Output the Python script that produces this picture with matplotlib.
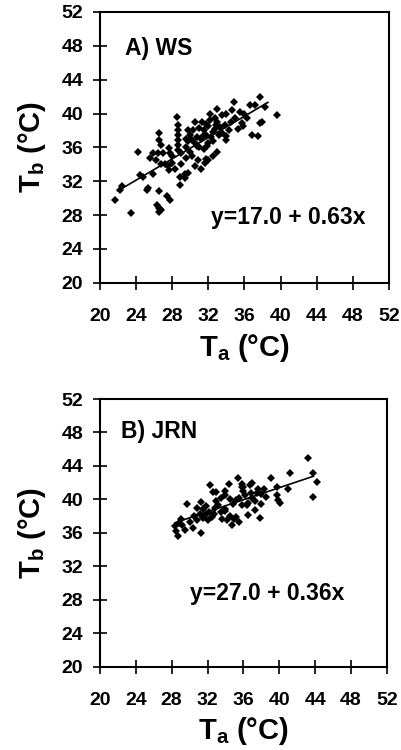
import numpy as np
import matplotlib
matplotlib.use('Agg')
import matplotlib.pyplot as plt

plt.rcParams['font.family'] = ['Liberation Sans', 'DejaVu Sans']
plt.rcParams['font.weight'] = 'bold'
plt.rcParams['mathtext.fontset'] = 'custom'
plt.rcParams['mathtext.rm'] = 'Liberation Sans:bold'
plt.rcParams['mathtext.bf'] = 'Liberation Sans:bold'
plt.rcParams['mathtext.default'] = 'bf'

# ----------------------------
# Data
# ----------------------------
ticks = [20, 24, 28, 32, 36, 40, 44, 48, 52]

# A) WS
ws_ta = [21.7, 22.4, 22.2, 23.5, 24.4, 24.8, 25.2, 25.3, 25.9, 26.3, 26.5, 26.8, 26.6, 27.4, 27.8, 26.5, 26.7,
         24.2, 25.9, 26.4, 27.0, 26.5, 26.6, 26.8, 27.6, 27.8, 28.5, 28.7, 28.7, 28.7, 28.7, 28.7, 28.7,
         27.6, 28.9, 29.4, 28.9, 29.4, 29.8, 30.9, 31.6, 31.7, 32.0, 29.0, 28.0, 27.2, 26.2, 25.5, 27.5,
         28.3, 29.5, 30.2, 29.0, 28.0, 26.8, 30.5,
         29.5, 29.8, 30.0, 30.3, 30.5, 30.8, 31.0, 31.2, 31.5, 31.8, 32.0, 32.2, 32.5, 32.8, 33.0, 33.2,
         31.0, 31.5, 32.0, 32.5, 30.0, 29.5, 31.3, 32.2, 32.7, 31.8, 30.5, 29.8, 33.5, 33.8, 33.5, 34.0, 34.0,
         34.8, 34.6, 35.5, 35.7, 36.6, 37.2, 37.7, 38.3, 37.9, 37.7, 39.6, 36.8, 37.5, 35.0, 36.0, 34.5,
         35.3, 36.3, 33.0, 34.0, 31.2, 32.5, 33.0, 30.7, 31.4, 32.3, 33.3, 30.2, 31.9, 32.9, 34.3, 35.8]
ws_tb = [29.8, 31.4, 31.0, 28.2, 32.7, 32.5, 31.0, 31.2, 32.8, 29.2, 28.8, 28.6, 30.8, 30.2, 29.8, 28.4, 28.7,
         35.5, 35.3, 35.3, 35.3, 37.7, 36.9, 36.3, 35.9, 35.3, 39.6, 38.6, 38.1, 37.5, 36.9, 36.3, 35.7,
         33.3, 32.5, 32.4, 31.6, 32.8, 33.0, 34.5, 34.2, 34.6, 34.5, 34.0, 34.2, 34.0, 34.5, 34.8, 33.8,
         33.5, 34.8, 35.0, 35.3, 35.0, 34.0, 33.8,
         36.0, 36.8, 37.5, 38.0, 36.5, 37.2, 38.3, 37.0, 38.0, 37.5, 38.5, 39.2, 37.8, 38.2, 39.0, 37.5,
         36.0, 35.8, 36.5, 36.8, 35.5, 37.0, 39.0, 40.0, 39.5, 38.8, 39.0, 38.0, 39.8, 38.6, 37.7, 36.9, 37.3,
         41.4, 40.4, 40.2, 38.9, 41.0, 41.0, 42.0, 40.8, 39.0, 38.9, 39.8, 37.5, 37.3, 39.5, 40.0, 39.0,
         38.2, 39.5, 40.5, 40.0, 33.5, 35.0, 35.5, 36.2, 37.4, 37.2, 38.4, 36.9, 36.2, 38.7, 38.1, 38.5]

# B) JRN
jrn_ta = [28.4, 28.5, 28.7, 28.8, 29.5, 30.4, 31.3, 29.7, 31.3, 30.5, 30.8, 31.2, 31.5, 31.8, 32.0, 32.2,
          32.5, 32.3, 32.6, 33.0, 33.2, 33.5, 33.8, 34.0, 33.9, 33.6, 34.2, 34.5, 35.0, 35.2, 34.4, 35.4,
          35.8, 35.8, 36.0, 36.7, 37.6, 34.8, 35.2, 35.5, 35.8, 36.2, 36.5, 36.4, 36.5, 37.3, 37.8, 36.8,
          37.0, 37.3, 37.5, 38.0, 38.5, 38.0, 33.0, 33.5, 34.0, 34.5, 32.8, 31.8, 30.8, 31.5, 39.1, 39.7,
          39.7, 39.9, 40.1, 41.0, 41.2, 43.2, 43.8, 44.2, 43.8, 30.0, 29.2, 29.0, 32.7, 34.7, 35.5, 36.0,
          38.3, 37.0, 34.0]
jrn_tb = [36.8, 36.2, 35.6, 37.2, 36.4, 36.6, 36.0, 39.5, 39.7, 38.0, 37.5, 38.2, 37.8, 38.3, 37.5, 38.5,
          37.9, 41.7, 40.9, 40.9, 39.3, 38.5, 38.7, 38.8, 38.6, 37.6, 37.5, 38.0, 37.6, 37.9, 41.8, 42.5,
          41.5, 41.9, 41.5, 41.7, 41.3, 39.5, 39.9, 40.2, 39.3, 40.5, 39.6, 39.3, 38.1, 38.7, 37.75, 40.8,
          40.2, 39.8, 40.8, 40.6, 40.3, 39.5, 39.8, 40.2, 40.5, 40.0, 39.0, 39.2, 39.0, 38.8, 42.6, 41.5,
          40.5, 39.9, 39.6, 41.3, 43.1, 44.9, 43.1, 42.1, 40.3, 37.3, 36.9, 37.6, 38.2, 37.0, 37.3, 41.0,
          41.2, 42.0, 41.0]

panels = [
    dict(ta=ws_ta, tb=ws_tb, a=17.0, b=0.63, fit=(22.0, 38.6), name='A) WS',
         eq='y=17.0 + 0.63x', name_xy=(22.8, 47.7), eq_xy=(32.3, 27.7)),
    dict(ta=jrn_ta, tb=jrn_tb, a=27.0, b=0.36, fit=(28.4, 43.8), name='B) JRN',
         eq='y=27.0 + 0.36x', name_xy=(22.4, 48.1), eq_xy=(30.0, 28.8)),
]

fig = plt.figure(figsize=(4.01, 7.5), dpi=100)
rects = [[0.249, 0.623, 0.721, 0.361], [0.249, 0.111, 0.716, 0.357]]

for rect, p in zip(rects, panels):
    ax = fig.add_axes(rect)
    ax.plot(p['ta'], p['tb'], 'D', color='black', markersize=4.0, markeredgewidth=0)
    xf = np.array(p['fit'])
    ax.plot(xf, p['a'] + p['b'] * xf, color='black', linewidth=1.2)

    ax.set_xlim(20, 52)
    ax.set_ylim(20, 52)
    ax.set_xticks(ticks)
    ax.set_yticks(ticks)
    ax.tick_params(axis='both', direction='inout', length=10, width=1.2, labelsize=14)
    ax.tick_params(axis='x', pad=13)
    ax.tick_params(axis='y', pad=7)
    for s in ax.spines.values():
        s.set_linewidth(1.5)
    for lab in ax.get_xticklabels() + ax.get_yticklabels():
        lab.set_fontweight('bold')

    ax.set_xlabel('T$_{a}$ (°C)', fontsize=21, fontweight='bold')
    ax.set_ylabel('T$_{b}$ (°C)', fontsize=21, fontweight='bold')
    ax.xaxis.set_label_coords(0.5, -0.24)
    ax.xaxis.label.set_va('center')
    ax.yaxis.set_label_coords(-0.235, 0.5)
    ax.yaxis.label.set_va('center')

    ax.text(p['name_xy'][0], p['name_xy'][1], p['name'], fontsize=16.5,
            fontweight='bold', ha='left', va='center')
    ax.text(p['eq_xy'][0], p['eq_xy'][1], p['eq'], fontsize=16.5,
            fontweight='bold', ha='left', va='center')

plt.savefig('out.png', dpi=100)
